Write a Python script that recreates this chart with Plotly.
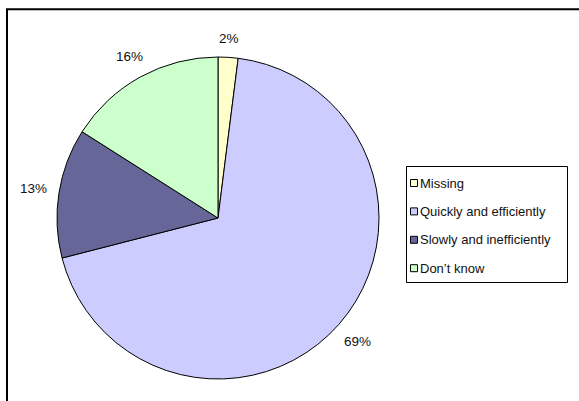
import math
import plotly.graph_objects as go

labels = ["Missing", "Quickly and efficiently", "Slowly and inefficiently", "Don\u2019t know"]
values = [2, 69, 13, 16]
colors = ["#FFFFCC", "#CCCCFF", "#666699", "#CCFFCC"]

W, H = 579, 401
FONT = "Liberation Sans, Arial, sans-serif"

def px(x):
    return x / W

def py(y):
    return 1 - y / H

# pie geometry in page pixels
CX, CY, R = 218, 218, 161

fig = go.Figure()
fig.add_trace(go.Pie(
    labels=labels,
    values=values,
    sort=False,
    direction="clockwise",
    rotation=0,
    marker=dict(colors=colors, line=dict(color="black", width=1)),
    textinfo="none",
    domain=dict(x=[px(CX - R), px(CX + R)], y=[py(CY + R), py(CY - R)]),
    showlegend=False,
    hoverinfo="label+percent",
))

annotations = []
# percentage labels placed outside each slice at its mid angle
total = sum(values)
cum = 0
for v in values:
    mid = (cum + v / 2) / total * 2 * math.pi
    cum += v
    txt = f"{round(100 * v / total)}%"
    hw = len(txt) * 4.2
    hh = 6
    d = R + 12 + abs(math.sin(mid)) * hw + abs(math.cos(mid)) * hh
    x = CX + d * math.sin(mid)
    y = CY - d * math.cos(mid)
    annotations.append(dict(x=px(x), y=py(y), xref="paper", yref="paper", text=txt,
                            showarrow=False, xanchor="center", yanchor="middle",
                            font=dict(family=FONT, size=13.5, color="#111111")))

shapes = []
# chart frame (extends off the right/bottom edges)
shapes.append(dict(type="rect", xref="paper", yref="paper",
                   x0=px(7), y0=py(430), x1=px(620), y1=py(9.3),
                   line=dict(color="black", width=2), fillcolor="rgba(0,0,0,0)", layer="above"))
# legend box
shapes.append(dict(type="rect", xref="paper", yref="paper",
                   x0=px(406.5), y0=py(282.5), x1=px(567.5), y1=py(166.5),
                   line=dict(color="black", width=1), fillcolor="white"))
row0, step = 183, 28.4
for i, (lab, col) in enumerate(zip(labels, colors)):
    yc = row0 + i * step
    shapes.append(dict(type="rect", xref="paper", yref="paper",
                       x0=px(410.5), y0=py(yc + 3.5), x1=px(417.5), y1=py(yc - 3.5),
                       line=dict(color="black", width=1), fillcolor=col))
    annotations.append(dict(x=px(418), y=py(yc), xref="paper", yref="paper",
                            text=lab, showarrow=False, xanchor="left", yanchor="middle",
                            font=dict(family=FONT, size=13, color="#111111")))

fig.update_layout(
    width=W, height=H,
    margin=dict(l=0, r=0, t=0, b=0),
    paper_bgcolor="white",
    plot_bgcolor="white",
    shapes=shapes,
    annotations=annotations,
)

fig.write_html("out.html", config={"displayModeBar": False},
               post_script="document.body.style.margin='0';document.body.style.padding='0';")
